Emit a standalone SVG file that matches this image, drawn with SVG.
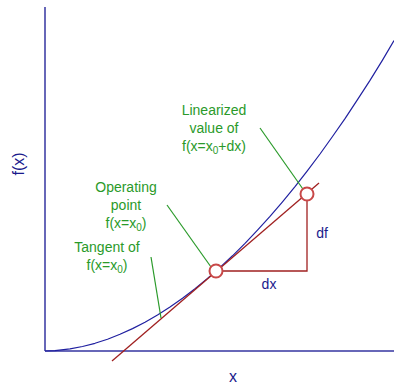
<svg xmlns="http://www.w3.org/2000/svg" width="394" height="385" viewBox="0 0 394 385">
<style>
.lbl{font-family:"Liberation Sans",Arial,sans-serif;font-size:14px;fill:#2a9a2a;text-anchor:middle}
.ax{font-family:"Liberation Sans",Arial,sans-serif;font-size:16px;fill:#1a1a8c;text-anchor:middle}
.sm{font-size:14px}
.sub{font-size:10px}
.lead{stroke:#2a9a2a;stroke-width:1.2;fill:none}
.red{stroke:#a02020;stroke-width:1.3;fill:none}
.pt{stroke:#c84848;stroke-width:2;fill:#ffffff}
</style>
<rect width="394" height="385" fill="#ffffff"/>
<g id="axes" fill="none" stroke="#3434a0" stroke-width="1.5">
<line x1="45" y1="7" x2="45" y2="351"/>
<line x1="45" y1="351" x2="394" y2="351"/>
</g>
<g id="curve">
<polyline fill="none" stroke="#2020a0" stroke-width="1.2" stroke-linejoin="round" points="45,351 55,350.6 70,348.9 82.5,346.5 95,343.3 107.5,339.2 120,334.3 132.5,328.6 145,322.2 157.5,314.9 170,306.9 182.5,298.2 195,288.7 207.5,278.4 220,267.4 232.5,255.8 245,243.3 257.5,230.1 270,216.4 282.5,201.8 295,186.6 307.5,170.6 320,154 332.5,136.5 345,118.6 357.5,99.7 370,80.4 382.5,60.1 394,40.6"/>
</g>
<g id="connectors">
<line class="red" x1="112" y1="361" x2="319" y2="183"/>
<polyline class="red" points="216,271 307,271 307,194"/>
<line class="lead" x1="260" y1="128" x2="305" y2="192"/>
<line class="lead" x1="167" y1="205" x2="211" y2="267"/>
<line class="lead" x1="151" y1="257" x2="161" y2="318"/>
</g>
<g id="operating-point"><circle class="pt" cx="216" cy="271" r="6.5"/></g>
<g id="linearized-point"><circle class="pt" cx="307" cy="194" r="6.5"/></g>
<g id="label-linearized">
<text class="lbl" x="214" y="115">Linearized</text>
<text class="lbl" x="214" y="133">value of</text>
<text class="lbl" x="214" y="151">f(x=x<tspan class="sub" dy="3">0</tspan><tspan dy="-3">+dx)</tspan></text>
</g>
<g id="label-operating">
<text class="lbl" x="126" y="192">Operating</text>
<text class="lbl" x="126" y="210">point</text>
<text class="lbl" x="126" y="228">f(x=x<tspan class="sub" dy="3">0</tspan><tspan dy="-3">)</tspan></text>
</g>
<g id="label-tangent">
<text class="lbl" x="107" y="252">Tangent of</text>
<text class="lbl" x="107" y="270">f(x=x<tspan class="sub" dy="3">0</tspan><tspan dy="-3">)</tspan></text>
</g>
<g id="axis-labels">
<text class="ax" transform="translate(24,164) rotate(-90)">f(x)</text>
<text class="ax" x="233" y="382">x</text>
<text class="ax sm" x="269" y="289">dx</text>
<text class="ax sm" x="322" y="238">df</text>
</g>
</svg>
